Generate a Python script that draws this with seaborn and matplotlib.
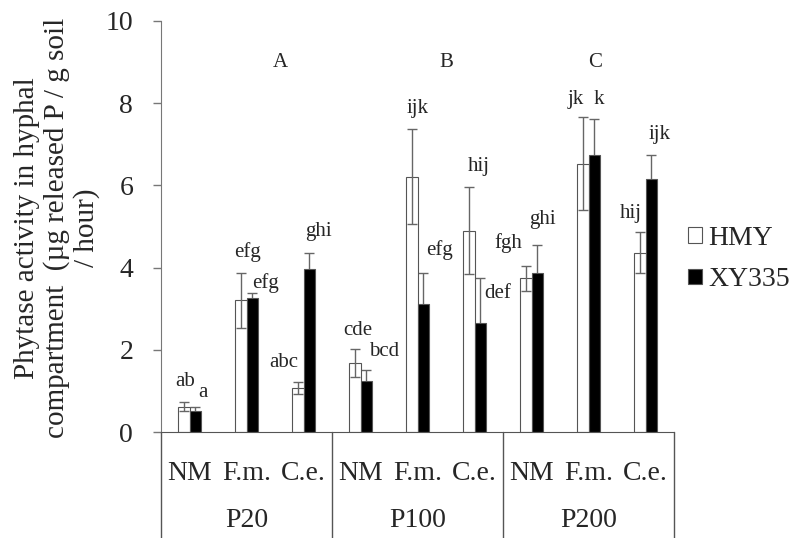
import pandas as pd
import numpy as np
import matplotlib
matplotlib.use("Agg")
import matplotlib.pyplot as plt
import matplotlib.transforms as mtransforms
import seaborn as sns

# values
groups = ["P20", "P100", "P200"]
treatments = ["NM", "F.m.", "C.e."]
cultivars = ["HMY", "XY335"]
hmy = [0.62, 3.20, 1.07, 1.68, 6.21, 4.90, 3.74, 6.53, 4.36]
hmy_se = [0.10, 0.68, 0.15, 0.34, 1.16, 1.05, 0.30, 1.13, 0.50]
xy335 = [0.51, 3.25, 3.97, 1.25, 3.11, 2.66, 3.88, 6.75, 6.16]
xy335_se = [0.10, 0.13, 0.39, 0.26, 0.77, 1.08, 0.67, 0.86, 0.57]
hmy_letters = ["ab", "efg", "abc", "cde", "ijk", "hij", "fgh", "jk", "hij"]
xy335_letters = ["a", "efg", "ghi", "bcd", "efg", "def", "ghi", "k", "ijk"]
group_letters = ["A", "B", "C"]

# label placement (offsets from the top of each error bar)
hmy_dx = [0.03, 0.12, -0.25, 0.05, 0.10, 0.17, -0.30, -0.13, -0.15]
hmy_dy = [0.52, 0.50, 0.48, 0.46, 0.51, 0.50, 0.55, 0.43, 0.46]
xy_dx = [0.13, 0.23, 0.16, 0.32, 0.29, 0.30, 0.09, 0.08, 0.15]
xy_dy = [0.35, 0.25, 0.51, 0.44, 0.55, -0.36, 0.63, 0.47, 0.50]
group_letter_x = [1.6, 4.51, 7.12]

cats = [g + " " + t for g in groups for t in treatments]
df = pd.DataFrame({
    "cat": cats * 2,
    "cultivar": ["HMY"] * 9 + ["XY335"] * 9,
    "value": hmy + xy335,
})

sns.set_style("ticks")
plt.rcParams["font.family"] = ["Liberation Serif", "DejaVu Serif"]

fig = plt.figure(figsize=(8, 5.38), dpi=100)
ax = fig.add_axes([161 / 800, 1 - 432 / 538, 513 / 800, 411 / 538])

sns.barplot(data=df, x="cat", y="value", hue="cultivar", order=cats,
            hue_order=cultivars, palette={"HMY": "white", "XY335": "black"},
            width=0.4, edgecolor="#555555", linewidth=0.8, errorbar=None,
            ax=ax, zorder=2)

# error bars and significance letters
for k, (vals, se, letters, dx, dy) in enumerate([
        (hmy, hmy_se, hmy_letters, hmy_dx, hmy_dy),
        (xy335, xy335_se, xy335_letters, xy_dx, xy_dy)]):
    xs = [p.get_x() + p.get_width() / 2 for p in ax.containers[k].patches]
    ax.errorbar(xs, vals, yerr=se, fmt="none", ecolor="#666666",
                elinewidth=1, capsize=3.5, capthick=1,
                zorder=3 if k == 0 else 1)
    for i in range(9):
        ax.text(xs[i] + dx[i], vals[i] + se[i] + dy[i], letters[i],
                ha="center", va="center", fontsize=15)

for x, s in zip(group_letter_x, group_letters):
    ax.text(x, 9.0, s, ha="center", va="center", fontsize=15)

ax.set_xlim(-0.5, 8.5)
ax.set_ylim(0, 10)
ax.set_yticks([0, 2, 4, 6, 8, 10])
ax.set_xticks(range(9))
ax.set_xticklabels(treatments * 3)
ax.tick_params(axis="x", length=0, pad=21, labelsize=20)
ax.tick_params(axis="y", length=6, width=1, color="#777777", labelsize=20,
               direction="out", pad=14)
ax.set_xlabel("")
ax.set_ylabel("Phytase activity in hyphal\ncompartment  (\u00b5g released P / g soil\n/ hour)",
              fontsize=21, linespacing=1.15)
ax.yaxis.set_label_coords(-0.119, 0.496)
sns.despine(ax=ax)
ax.spines["left"].set_color("#777777")
ax.spines["bottom"].set_color("#555555")

# group labels and dividers below the axis
trans = mtransforms.blended_transform_factory(ax.transData, ax.transAxes)
for i, g in enumerate(groups):
    ax.text(3 * i + 1, -0.216, g, transform=trans, ha="center", va="center",
            fontsize=20)
for x in [-0.5, 2.5, 5.5, 8.5]:
    ax.plot([x, x], [0, -0.26], transform=trans, color="#555555", lw=1,
            clip_on=False)

ax.legend(loc="center left", bbox_to_anchor=(1.027, 0.421), frameon=False,
          fontsize=20, handlelength=0.5, handleheight=0.5, handletextpad=0.25,
          borderaxespad=0, borderpad=0, labelspacing=0.6)

fig.savefig("out.png", dpi=100)
